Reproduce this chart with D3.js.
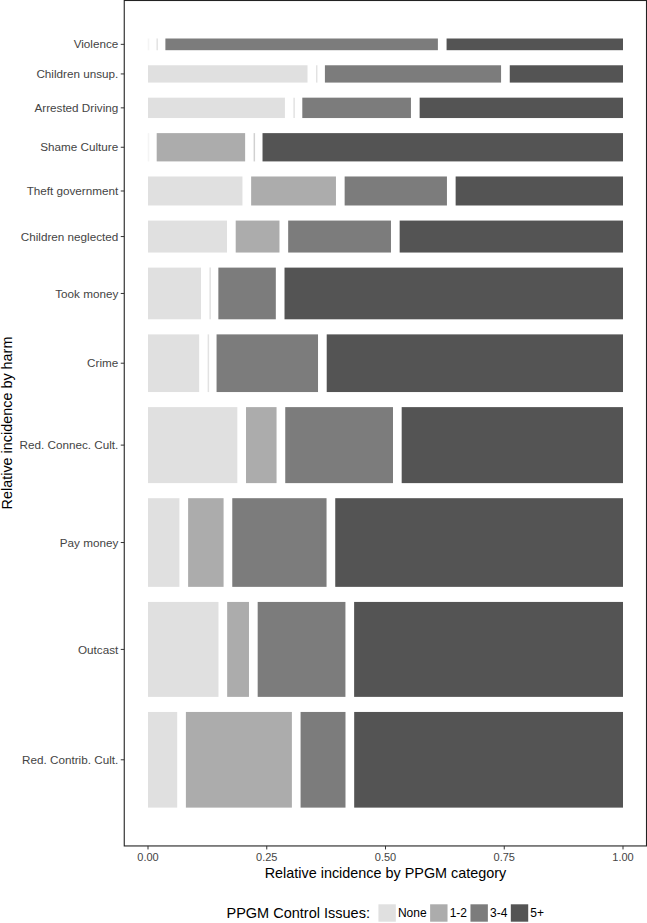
<!DOCTYPE html>
<html>
<head>
<meta charset="utf-8">
<script src="https://cdn.jsdelivr.net/npm/d3@7"></script>
<style>
  html, body { margin: 0; padding: 0; background: #fff; }
  svg { display: block; font-family: "Liberation Sans", Arial, sans-serif; }
</style>
</head>
<body>
<svg id="chart" width="647" height="923"></svg>
<script>
// harms, top to bottom
const harms = ['Violence', 'Children unsup.', 'Arrested Driving', 'Shame Culture',
    'Theft government', 'Children neglected', 'Took money', 'Crime',
    'Red. Connec. Cult.', 'Pay money', 'Outcast', 'Red. Contrib. Cult.'];
// share of each harm (row height)
const harmShare = [0.0194, 0.0287, 0.0338, 0.0469, 0.0481, 0.053, 0.0857, 0.0956,
    0.126, 0.147, 0.1574, 0.1586];

const levels  = ['None', '1-2', '3-4', '5+'];
const colors  = ['#e0e0e0', '#acacac', '#7c7c7c', '#545454'];

// share of each PPGM category within a harm
const shareNone = [0, 0.355, 0.305, 0, 0.2105, 0.176, 0.118, 0.114, 0.199, 0.070, 0.157, 0.065];
const share12   = [0, 0, 0, 0.197, 0.189, 0.0975, 0, 0, 0.068, 0.079, 0.0486, 0.236];
const share34   = [0.607, 0.392, 0.242, 0, 0.228, 0.229, 0.128, 0.226, 0.240, 0.210, 0.1955, 0.100];
const share5    = [0.393, 0.252, 0.453, 0.803, 0.373, 0.4975, 0.754, 0.660, 0.493, 0.641, 0.599, 0.5985];

const xTicks = [0, 0.25, 0.5, 0.75, 1];

const svg = d3.select('#chart');
const x = d3.scaleLinear().domain([0, 1]).range([148, 623]);
const y = d3.scaleLinear().domain([0, 1]).range([807.5, 38.5]);

const xGap = 0.0183, yGap = 0.0196;
const textCol = '#444';

// mosaic tiles
const shares = [shareNone, share12, share34, share5];
const hScale = 1 - (harms.length - 1) * yGap;
const wScale = 1 - (levels.length - 1) * xGap;
const rows = [];
let yCur = 1;
harms.forEach((h, i) => {
    const top = yCur, bot = yCur - harmShare[i] * hScale;
    yCur = bot - yGap;
    const tot = d3.sum(shares, s => s[i]);
    let xCur = 0;
    const tiles = levels.map((lv, j) => {
        const w = shares[j][i] / tot * wScale;
        const t = { x0: xCur, x1: xCur + w, level: j };
        xCur += w + xGap;
        return t;
    });
    rows.push({ harm: h, top, bot, tiles });
});

const g = svg.append('g');
rows.forEach(r => {
    r.tiles.forEach(t => {
        const w = x(t.x1) - x(t.x0);
        if (w < 0.5) {
            // empty category: only a faint outline is left
            g.append('line')
                .attr('x1', x(t.x0) + 0.5).attr('x2', x(t.x0) + 0.5)
                .attr('y1', y(r.top)).attr('y2', y(r.bot))
                .attr('stroke', colors[t.level]).attr('stroke-opacity', 0.35)
                .attr('stroke-width', 1.5);
        } else {
            g.append('rect')
                .attr('x', x(t.x0)).attr('y', y(r.top))
                .attr('width', w).attr('height', y(r.bot) - y(r.top))
                .attr('fill', colors[t.level]);
        }
    });
});

// panel border
const pL = x(-0.05), pR = x(1.05), pT = y(1.05), pB = y(-0.05);
svg.append('rect')
    .attr('x', pL).attr('y', Math.max(pT, 0.5))
    .attr('width', Math.min(pR, 646.5) - pL).attr('height', pB - Math.max(pT, 0.5))
    .attr('fill', 'none').attr('stroke', '#222').attr('stroke-width', 1.1);

// x axis
const xAxis = svg.append('g').attr('transform', `translate(0,${pB})`);
xTicks.forEach(v => {
    xAxis.append('line').attr('x1', x(v)).attr('x2', x(v)).attr('y1', 0).attr('y2', 3.5)
        .attr('stroke', '#333');
    xAxis.append('text').attr('x', x(v)).attr('y', 15.5)
        .attr('text-anchor', 'middle').attr('font-size', 11).attr('fill', textCol)
        .text(d3.format('.2f')(v));
});
svg.append('text').attr('x', (x(0) + x(1)) / 2).attr('y', 878)
    .attr('text-anchor', 'middle').attr('font-size', 14.4).attr('fill', '#000')
    .text('Relative incidence by PPGM category');

// y axis
rows.forEach(r => {
    const cy = y((r.top + r.bot) / 2);
    svg.append('line').attr('x1', pL - 3.5).attr('x2', pL).attr('y1', cy).attr('y2', cy)
        .attr('stroke', '#333');
    svg.append('text').attr('x', pL - 6).attr('y', cy).attr('dy', '0.35em')
        .attr('text-anchor', 'end').attr('font-size', 11.7).attr('fill', textCol)
        .text(r.harm);
});
svg.append('text')
    .attr('transform', `translate(11.5,${(y(0) + y(1)) / 2}) rotate(-90)`)
    .attr('text-anchor', 'middle').attr('font-size', 14.4).attr('fill', '#000')
    .text('Relative incidence by harm');

// legend
const leg = svg.append('g');
let lx = 226.5;
const ly = 913;
const title = leg.append('text').attr('x', lx).attr('y', ly).attr('dy', '0.35em')
    .attr('font-size', 14.5).attr('fill', '#000').text('PPGM Control Issues:');
lx += title.node().getComputedTextLength() + 8.5;
levels.forEach((lv, j) => {
    leg.append('rect').attr('x', lx).attr('y', ly - 8.7).attr('width', 17.4).attr('height', 17.4)
        .attr('fill', colors[j]);
    lx += 19.5;
    const t = leg.append('text').attr('x', lx).attr('y', ly).attr('dy', '0.35em')
        .attr('font-size', 12).attr('fill', '#000').text(lv);
    lx += t.node().getComputedTextLength() + 3.5;
});
</script>
</body>
</html>
